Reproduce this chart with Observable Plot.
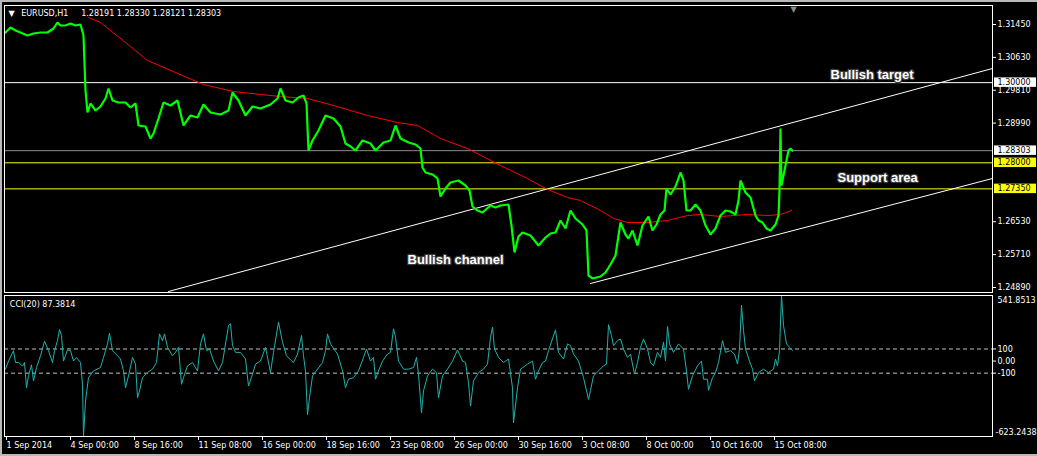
<!DOCTYPE html>
<html><head><meta charset="utf-8">
<script src="https://cdn.jsdelivr.net/npm/d3@7"></script>
<script src="https://cdn.jsdelivr.net/npm/@observablehq/plot@0.6"></script>
<style>
html,body{margin:0;padding:0;background:#000;width:1037px;height:456px;overflow:hidden}
#wrap{position:relative;width:1037px;height:456px;background:#000}
#wrap svg{display:block}
.edge{position:absolute;background:#b8b8b8}
</style></head><body><div id="wrap"></div>
<script>
// Hourly bar index (weekends skipped), 0 = first labelled bar "1 Sep 2014"
const xTickBars = [0,64,128,192,256,320,384,448,512,576,640,704,768];
const xTickLabels = ["1 Sep 2014","4 Sep 00:00","8 Sep 16:00","11 Sep 08:00","16 Sep 00:00","18 Sep 16:00","23 Sep 08:00","26 Sep 00:00","30 Sep 16:00","3 Oct 08:00","8 Oct 00:00","10 Oct 16:00","15 Oct 08:00"];

// EURUSD H1 price trace [bar, price]
const priceSeries = [[0,1.31250],[5,1.31375],[10,1.31300],[15,1.31250],[22,1.31176],[28,1.31226],[35,1.31250],[42,1.31250],[48,1.31350],[52,1.31500],[55,1.31425],[60,1.31425],[65,1.31475],[70,1.31425],[75,1.31450],[78,1.31176],[80,1.29804],[82,1.29255],[85,1.29480],[90,1.29305],[95,1.29405],[100,1.29604],[103,1.29854],[107,1.29554],[113,1.29505],[120,1.29505],[125,1.29380],[130,1.29480],[133,1.28931],[140,1.28906],[145,1.28606],[148,1.28731],[153,1.29105],[158,1.29505],[165,1.29430],[172,1.29554],[178,1.28931],[185,1.29180],[192,1.29130],[198,1.29455],[205,1.29255],[215,1.29205],[223,1.29305],[227,1.29754],[233,1.29554],[240,1.29180],[247,1.29405],[255,1.29355],[265,1.29455],[272,1.29604],[275,1.29854],[280,1.29554],[287,1.29505],[293,1.29629],[298,1.29679],[301,1.29480],[303,1.28307],[307,1.28557],[313,1.28806],[320,1.29180],[328,1.29105],[335,1.28906],[340,1.28482],[345,1.28407],[350,1.28307],[357,1.28557],[365,1.28482],[370,1.28307],[378,1.28507],[385,1.28557],[390,1.28931],[395,1.28606],[403,1.28507],[410,1.28457],[415,1.28357],[417,1.27883],[420,1.27758],[427,1.27709],[432,1.27609],[435,1.27160],[440,1.27359],[445,1.27509],[453,1.27559],[460,1.27434],[464,1.27309],[467,1.26910],[472,1.26810],[477,1.26760],[485,1.26935],[490,1.26885],[495,1.26935],[503,1.26960],[506,1.26436],[509,1.25763],[513,1.26162],[517,1.26262],[525,1.26187],[533,1.25938],[540,1.26137],[545,1.26237],[550,1.26262],[555,1.26561],[560,1.26362],[565,1.26810],[570,1.26611],[577,1.26461],[581,1.26312],[583,1.25189],[587,1.25115],[591,1.25140],[595,1.25164],[600,1.25264],[605,1.25464],[610,1.25688],[613,1.26187],[615,1.26511],[620,1.26212],[623,1.26112],[627,1.26312],[632,1.25938],[637,1.26436],[643,1.26661],[647,1.26312],[651,1.26461],[655,1.26711],[659,1.26810],[661,1.27359],[665,1.27210],[670,1.27409],[675,1.27758],[678,1.27559],[681,1.26810],[685,1.26810],[690,1.26960],[695,1.26810],[700,1.26436],[705,1.26212],[710,1.26362],[715,1.26686],[720,1.26810],[725,1.26786],[730,1.26711],[733,1.27060],[735,1.27559],[740,1.27260],[745,1.27135],[750,1.26686],[753,1.26561],[757,1.26511],[761,1.26362],[765,1.26312],[770,1.26461],[773,1.26686],[774,1.27309],[775,1.28856],[776,1.27434],[778,1.27684],[780,1.27933],[783,1.28307],[785,1.28357],[787,1.28303]];

// Moving average (red) [bar, price]
const maSeries = [[83,1.31625],[95,1.31500],[120,1.31001],[142,1.30552],[170,1.30253],[198,1.29953],[228,1.29779],[255,1.29704],[275,1.29654],[302,1.29604],[328,1.29430],[362,1.29180],[392,1.29006],[412,1.28931],[435,1.28606],[462,1.28357],[495,1.27933],[522,1.27609],[540,1.27359],[562,1.27135],[575,1.27060],[595,1.26811],[608,1.26611],[622,1.26511],[642,1.26511],[662,1.26561],[682,1.26686],[695,1.26711],[715,1.26661],[742,1.26711],[762,1.26686],[775,1.26711],[786,1.26811]];

// Channel trend lines [bar, price]
const upperChannel = [[163,1.24790],[987,1.30353]];
const lowerChannel = [[585,1.24990],[987,1.27609]];

// Horizontal levels
const levelPrices = [1.30000, 1.28303, 1.28000, 1.27350];
const levelLineColors = ["#ffffff", "#8c8c8c", "#ffff00", "#ffff00"];
const levelBoxColors = ["#ffffff", "#ffffff", "#ffff00", "#ffff00"];

const priceTicks = [1.31450, 1.30630, 1.29810, 1.28990, 1.26530, 1.25710, 1.24890];
const priceDomain = [1.24765, 1.31924];

const annotations = [
  {label: "Bullish target", bar: 825, price: 1.30203},
  {label: "Support area", bar: 832, price: 1.27620},
  {label: "Bullish channel", bar: 402, price: 1.25588}
];

const headerSymbol = "EURUSD,H1";
const headerOHLC = "1.28191 1.28330 1.28121 1.28303";

// CCI(20) [bar, value]
const cciSeries = [[0,-67],[3,0],[8,86],[10,-12],[13,-12],[17,-40],[19,-12],[21,-220],[23,-122],[26,-31],[28,-164],[31,-53],[35,44],[39,164],[43,86],[47,-12],[49,86],[52,169],[54,261],[56,211],[58,0],[62,92],[65,86],[68,0],[71,30],[75,-12],[77,-192],[78,-623.2438],[80,-331],[83,-137],[88,-81],[95,-53],[98,30],[102,142],[104,230],[107,86],[112,44],[115,17],[118,-81],[120,-220],[123,-122],[127,30],[130,-25],[132,-303],[134,-247],[137,-137],[142,-95],[147,-67],[151,-12],[154,225],[157,169],[159,225],[162,114],[167,44],[170,72],[173,114],[176,-192],[178,-137],[182,-39],[187,-12],[192,-81],[195,142],[198,225],[201,86],[204,100],[208,0],[213,-81],[217,-12],[223,294],[225,308],[227,128],[230,72],[235,72],[240,17],[243,-206],[247,-108],[250,-25],[255,0],[260,114],[265,-95],[268,72],[273,322],[277,156],[281,44],[285,10],[288,-12],[292,58],[296,211],[298,44],[300,-81],[302,-442],[304,-303],[307,-122],[312,-67],[317,-12],[320,86],[322,225],[325,142],[332,58],[337,-81],[340,-220],[343,-150],[348,-137],[353,-81],[358,30],[361,100],[365,0],[368,30],[370,-150],[373,-81],[377,0],[382,58],[385,72],[388,267],[390,197],[393,0],[398,-67],[403,-67],[408,-53],[411,30],[413,-108],[416,-428],[418,-247],[422,-122],[427,-67],[431,-95],[433,-303],[437,-122],[442,-67],[447,0],[452,92],[457,0],[460,-12],[463,-178],[465,-372],[468,-164],[473,-95],[478,-67],[482,-25],[485,197],[487,280],[489,100],[493,30],[498,-12],[503,17],[507,-220],[508,-511],[512,-220],[515,-67],[522,-25],[527,0],[530,-150],[533,-81],[537,-12],[540,0],[543,86],[550,258],[553,72],[558,17],[562,142],[565,128],[568,58],[573,0],[578,-137],[583,-317],[585,-242],[588,-122],[593,-81],[598,-39],[601,-25],[603,300],[606,211],[608,128],[612,169],[615,183],[618,100],[622,30],[625,58],[629,-108],[632,-12],[635,114],[638,183],[642,100],[645,-12],[648,-39],[652,72],[655,30],[658,156],[660,0],[662,286],[664,142],[668,72],[673,142],[678,100],[681,-81],[683,-233],[687,-122],[692,-39],[696,0],[698,-150],[702,-150],[703,-242],[707,-137],[710,-95],[713,-12],[717,169],[720,72],[725,86],[729,58],[732,-25],[734,100],[736,461],[738,253],[740,100],[744,0],[747,-67],[749,-164],[753,-95],[758,-67],[763,-95],[768,-67],[770,17],[772,-39],[774,86],[776,541.8513],[778,294],[781,142],[784,114],[787,87.3814]];
const cciLevels = [100, -100];
const cciTicks = [100, 0, -100];
const cciMax = 541.8513, cciMin = -623.2438;
const cciTitle = "CCI(20) 87.3814";

const W = 1037;
const xDomain = [-1, 987];
const font = "Tahoma, 'DejaVu Sans', sans-serif";
const boldFont = "'Liberation Sans', Arial, sans-serif";
const baseStyle = {background: "#000", color: "#fff", fontFamily: font, fontSize: "8px", overflow: "visible"};
const halfBox = 0.00118;

const main = Plot.plot({
  width: W, height: 293,
  marginLeft: 4, marginRight: 45, marginTop: 5, marginBottom: 1,
  style: baseStyle,
  x: {domain: xDomain, axis: null},
  y: {domain: priceDomain, axis: null},
  marks: [
    ...levelPrices.map((p, i) => Plot.ruleY([p], {stroke: levelLineColors[i], strokeWidth: 1})),
    Plot.line(upperChannel, {x: d => d[0], y: d => d[1], stroke: "#fff", strokeWidth: 1, clip: true}),
    Plot.line(lowerChannel, {x: d => d[0], y: d => d[1], stroke: "#fff", strokeWidth: 1, clip: true}),
    Plot.line(maSeries, {x: d => d[0], y: d => d[1], stroke: "#ff0000", strokeWidth: 1, clip: true}),
    Plot.line(priceSeries, {x: d => d[0], y: d => d[1], stroke: "#00ff00", strokeWidth: 2.2, strokeLinejoin: "bevel", clip: true}),
    Plot.text(annotations, {x: "bar", y: "price", text: "label", textAnchor: "start", fontFamily: boldFont, fontWeight: "bold", fontSize: 13, fill: "#fff", stroke: "#3a3a3a", strokeWidth: 2.5, paintOrder: "stroke"}),
    Plot.frame({stroke: "#fff"}),
    Plot.axisY(priceTicks, {anchor: "right", label: null, tickSize: 3, tickPadding: 2, tickFormat: d => d.toFixed(5), fill: "#fff", stroke: "#fff"}),
    ...levelPrices.map((p, i) => Plot.rect([p], {x1: xDomain[1] + 2, x2: xDomain[1] + 44, y1: d => d - halfBox, y2: d => d + halfBox, fill: levelBoxColors[i]})),
    ...levelPrices.map((p, i) => Plot.text([p], {x: xDomain[1], y: d => d, text: d => d.toFixed(5), dx: 5, textAnchor: "start", fill: "#000"})),
    Plot.text(["▼"], {frameAnchor: "top-left", dx: 4, dy: 5, lineAnchor: "top", fill: "#fff", fontSize: 8}),
    Plot.text([headerSymbol], {frameAnchor: "top-left", dx: 16.7, dy: 5, lineAnchor: "top", textAnchor: "start", fill: "#fff"}),
    Plot.text([headerOHLC], {frameAnchor: "top-left", dx: 76.7, dy: 5, lineAnchor: "top", textAnchor: "start", fill: "#fff"}),
    Plot.text(["▼"], {x: 788, frameAnchor: "top", fill: "#8c8c8c", fontSize: 8, dy: 1})
  ]
});

const cci = Plot.plot({
  width: W, height: 163,
  marginLeft: 4, marginRight: 45, marginTop: 2, marginBottom: 20,
  style: baseStyle,
  x: {domain: xDomain, axis: null},
  y: {domain: [cciMin, cciMax], axis: null},
  marks: [
    Plot.ruleY(cciLevels, {stroke: "#c0c0c0", strokeDasharray: "4,3"}),
    Plot.line(cciSeries, {x: d => d[0], y: d => d[1], stroke: "#20b2aa", strokeWidth: 1}),
    Plot.frame({stroke: "#fff"}),
    Plot.axisY(cciTicks, {anchor: "right", label: null, tickSize: 3, tickPadding: 2, tickFormat: d => d === 0 ? "0.00" : String(d), fill: "#fff", stroke: "#fff"}),
    Plot.text([cciMax], {x: xDomain[1], y: d => d, text: d => String(d), dx: 5, dy: 2, textAnchor: "start", lineAnchor: "top", fill: "#fff"}),
    Plot.text([cciMin], {x: xDomain[1], y: d => d, text: d => String(d), dx: 3, dy: -2, textAnchor: "start", lineAnchor: "bottom", fill: "#fff"}),
    Plot.axisX(xTickBars, {anchor: "bottom", label: null, tickSize: 4, tickPadding: 2, textAnchor: "start", dx: 1, tickFormat: d => xTickLabels[xTickBars.indexOf(d)], fill: "#fff", stroke: "#fff"}),
    Plot.text([cciTitle], {frameAnchor: "top-left", dx: 5.3, dy: 5.8, lineAnchor: "top", textAnchor: "start", fill: "#fff"})
  ]
});

const wrap = document.getElementById("wrap");
wrap.appendChild(main);
wrap.appendChild(cci);
for (const [l, t, w, h] of [[0,0,1037,2],[0,0,2,456],[0,454,1037,2]]) {
  const e = document.createElement("div");
  e.className = "edge";
  Object.assign(e.style, {left: l + "px", top: t + "px", width: w + "px", height: h + "px"});
  wrap.appendChild(e);
}
</script>
</body></html>
